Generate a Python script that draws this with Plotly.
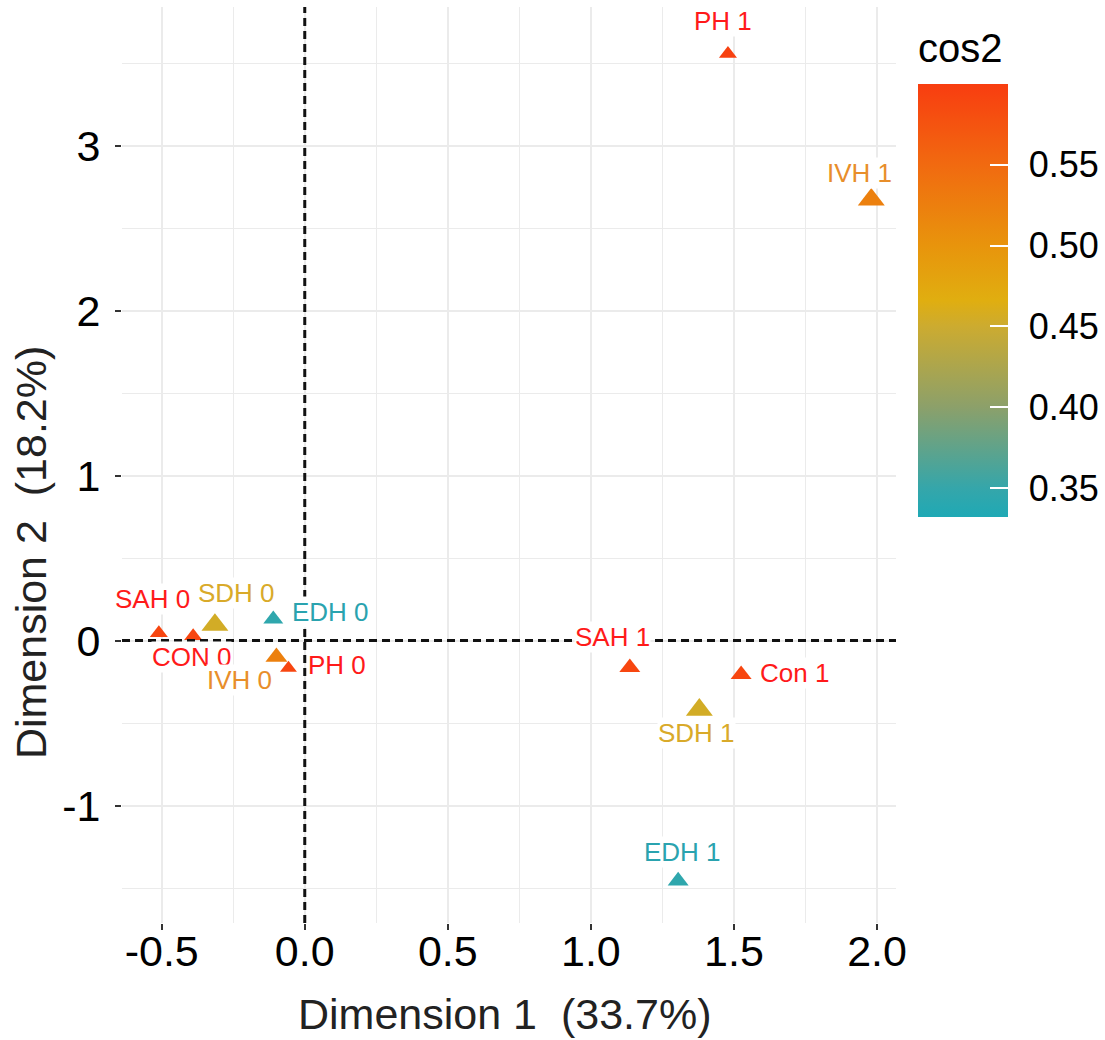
import plotly.graph_objects as go

# ---- data ----
labels = ["SAH 0", "CON 0", "SDH 0", "EDH 0", "IVH 0", "PH 0",
          "SAH 1", "Con 1", "SDH 1", "EDH 1", "PH 1", "IVH 1"]
dim1 = [-0.51, -0.39, -0.314, -0.11, -0.099, -0.057,
        1.136, 1.525, 1.379, 1.305, 1.479, 1.98]
dim2 = [0.045, 0.027, 0.094, 0.13, -0.10, -0.167,
        -0.164, -0.206, -0.42, -1.457, 3.556, 2.672]
cos2 = [0.59, 0.59, 0.455, 0.345, 0.524, 0.59,
        0.59, 0.59, 0.455, 0.345, 0.595, 0.524]
contrib = [1.9, 1.9, 7.4, 3.1, 4.3, 1.2,
           3.7, 3.7, 7.4, 3.7, 1.9, 7.4]
x_ticks = [-0.5, 0.0, 0.5, 1.0, 1.5, 2.0]
y_ticks = [-1, 0, 1, 2, 3]
cb_ticks = [0.35, 0.40, 0.45, 0.50, 0.55]

# ---- styling ----
FONT = "Liberation Sans"
label_colors = ["#FF1A1A", "#FF1A1A", "#D9AA2A", "#2AA3AF", "#E88E2A", "#FF1A1A",
                "#FF1A1A", "#FF1A1A", "#D9AA2A", "#2AA3AF", "#FF1A1A", "#E88E2A"]
label_dx = [-6, -2, 22, 18, -37, 19, -17, 18, -3, 4, -5, -12]
label_dy = [-34, 21, -32, -7, 23, -3, -31, -1, 23, -29, -33, -27]
label_anchor = ["center", "center", "center", "left", "center", "left",
                "center", "left", "center", "center", "center", "center"]

cmin, cmax = 0.332, 0.600
colorscale = [
    [0.0, "#1FA9B5"],
    [0.067, "#35A6AA"],
    [0.254, "#8CA06A"],
    [0.44, "#CCAB30"],
    [0.5, "#E0AE10"],
    [0.627, "#E8940C"],
    [0.813, "#F16A10"],
    [1.0, "#F83D10"],
]

W, H = 1105, 1040
ml, mr, mt, mb = 122, 208, 7, 117
pw, ph = W - ml - mr, H - mt - mb

cb_common = dict(
    x=(918 - ml) / pw, xanchor="left", xpad=0,
    y=(H - mb - 84) / ph, yanchor="top", ypad=0,
    thickness=90, thicknessmode="pixels",
    len=433, lenmode="pixels",
    outlinewidth=0,
    tickvals=cb_ticks, tickformat=".2f",
)

fig = go.Figure()
# colorbar carrying the tick labels (drawn first, underneath)
fig.add_trace(go.Scatter(
    x=dim1, y=dim2, mode="markers",
    marker=dict(
        size=1, opacity=0,
        color=cos2, colorscale=colorscale, cmin=cmin, cmax=cmax,
        colorbar=dict(
            **cb_common,
            ticks="outside", ticklen=14, tickcolor="rgba(0,0,0,0)",
            tickfont=dict(family=FONT, size=36, color="black"),
        ),
    ),
    showlegend=False, hoverinfo="skip",
))
# visible markers, with colorbar showing inside white ticks
fig.add_trace(go.Scatter(
    x=dim1, y=dim2, mode="markers",
    marker=dict(
        symbol="triangle-up",
        size=[13 + 1.4 * c for c in contrib],
        opacity=1,
        color=cos2, colorscale=colorscale, cmin=cmin, cmax=cmax,
        line=dict(width=0),
        colorbar=dict(
            **cb_common,
            ticks="inside", ticklen=18, tickwidth=1.5, tickcolor="white",
            showticklabels=False,
        ),
    ),
    showlegend=False, hoverinfo="text", text=labels,
))

for i, lab in enumerate(labels):
    fig.add_annotation(
        x=dim1[i], y=dim2[i], text=lab, showarrow=False,
        xanchor=label_anchor[i], yanchor="middle",
        xshift=label_dx[i], yshift=-label_dy[i],
        bgcolor="white", borderpad=0,
        font=dict(family=FONT, size=26, color=label_colors[i]),
    )

# dashed reference lines
dash_line = dict(color="#111111", width=3, dash="8px,5px")
fig.add_shape(type="line", xref="x", yref="paper", x0=0, x1=0, y0=0, y1=1,
              line=dash_line, layer="above")
fig.add_shape(type="line", xref="paper", yref="y", x0=0, x1=1, y0=0, y1=0,
              line=dash_line, layer="above")

# axis titles
fig.add_annotation(xref="paper", yref="paper", x=(505 - ml) / pw, y=(H - mb - 1014) / ph,
                   text="Dimension 1  (33.7%)", showarrow=False,
                   xanchor="center", yanchor="middle",
                   font=dict(family=FONT, size=43, color="#222222"))
fig.add_annotation(xref="paper", yref="paper", x=(31 - ml) / pw, y=(H - mb - 553) / ph,
                   text="Dimension 2  (18.2%)", showarrow=False, textangle=-90,
                   xanchor="center", yanchor="middle",
                   font=dict(family=FONT, size=43, color="#222222"))
fig.add_annotation(xref="paper", yref="paper", x=(917 - ml) / pw, y=(H - mb - 48) / ph,
                   text="cos2", showarrow=False,
                   xanchor="left", yanchor="middle",
                   font=dict(family=FONT, size=40, color="black"))

grid = "#EBEBEB"
fig.update_xaxes(
    range=[(ml - 305) / 286.5, (W - mr - 305) / 286.5],
    tickvals=x_ticks, ticktext=[f"{v:.1f}" for v in x_ticks],
    showgrid=True, gridcolor=grid, gridwidth=1.6,
    minor=dict(dtick=0.25, tick0=0, showgrid=True, gridcolor=grid, gridwidth=1.2),
    ticks="outside", ticklen=6, tickwidth=1.5, tickcolor="#333333",
    tickfont=dict(family=FONT, size=43, color="black"),
    ticklabelstandoff=-16,
    zeroline=False, showline=False,
)
fig.update_yaxes(
    range=[(640.5 - (H - mb)) / 165, (640.5 - mt) / 165],
    tickvals=y_ticks, ticktext=[str(v) for v in y_ticks],
    showgrid=True, gridcolor=grid, gridwidth=1.6,
    minor=dict(dtick=0.5, tick0=0, showgrid=True, gridcolor=grid, gridwidth=1.2),
    ticks="outside", ticklen=6, tickwidth=1.5, tickcolor="#333333",
    tickfont=dict(family=FONT, size=43, color="black"),
    ticklabelstandoff=6,
    zeroline=False, showline=False,
)
fig.update_layout(
    width=W, height=H,
    margin=dict(l=ml, r=mr, t=mt, b=mb, pad=0),
    plot_bgcolor="white", paper_bgcolor="white",
    font=dict(family=FONT),
)
fig.write_html("out.html", config={"displayModeBar": False},
               post_script="document.body.style.margin='0';")
